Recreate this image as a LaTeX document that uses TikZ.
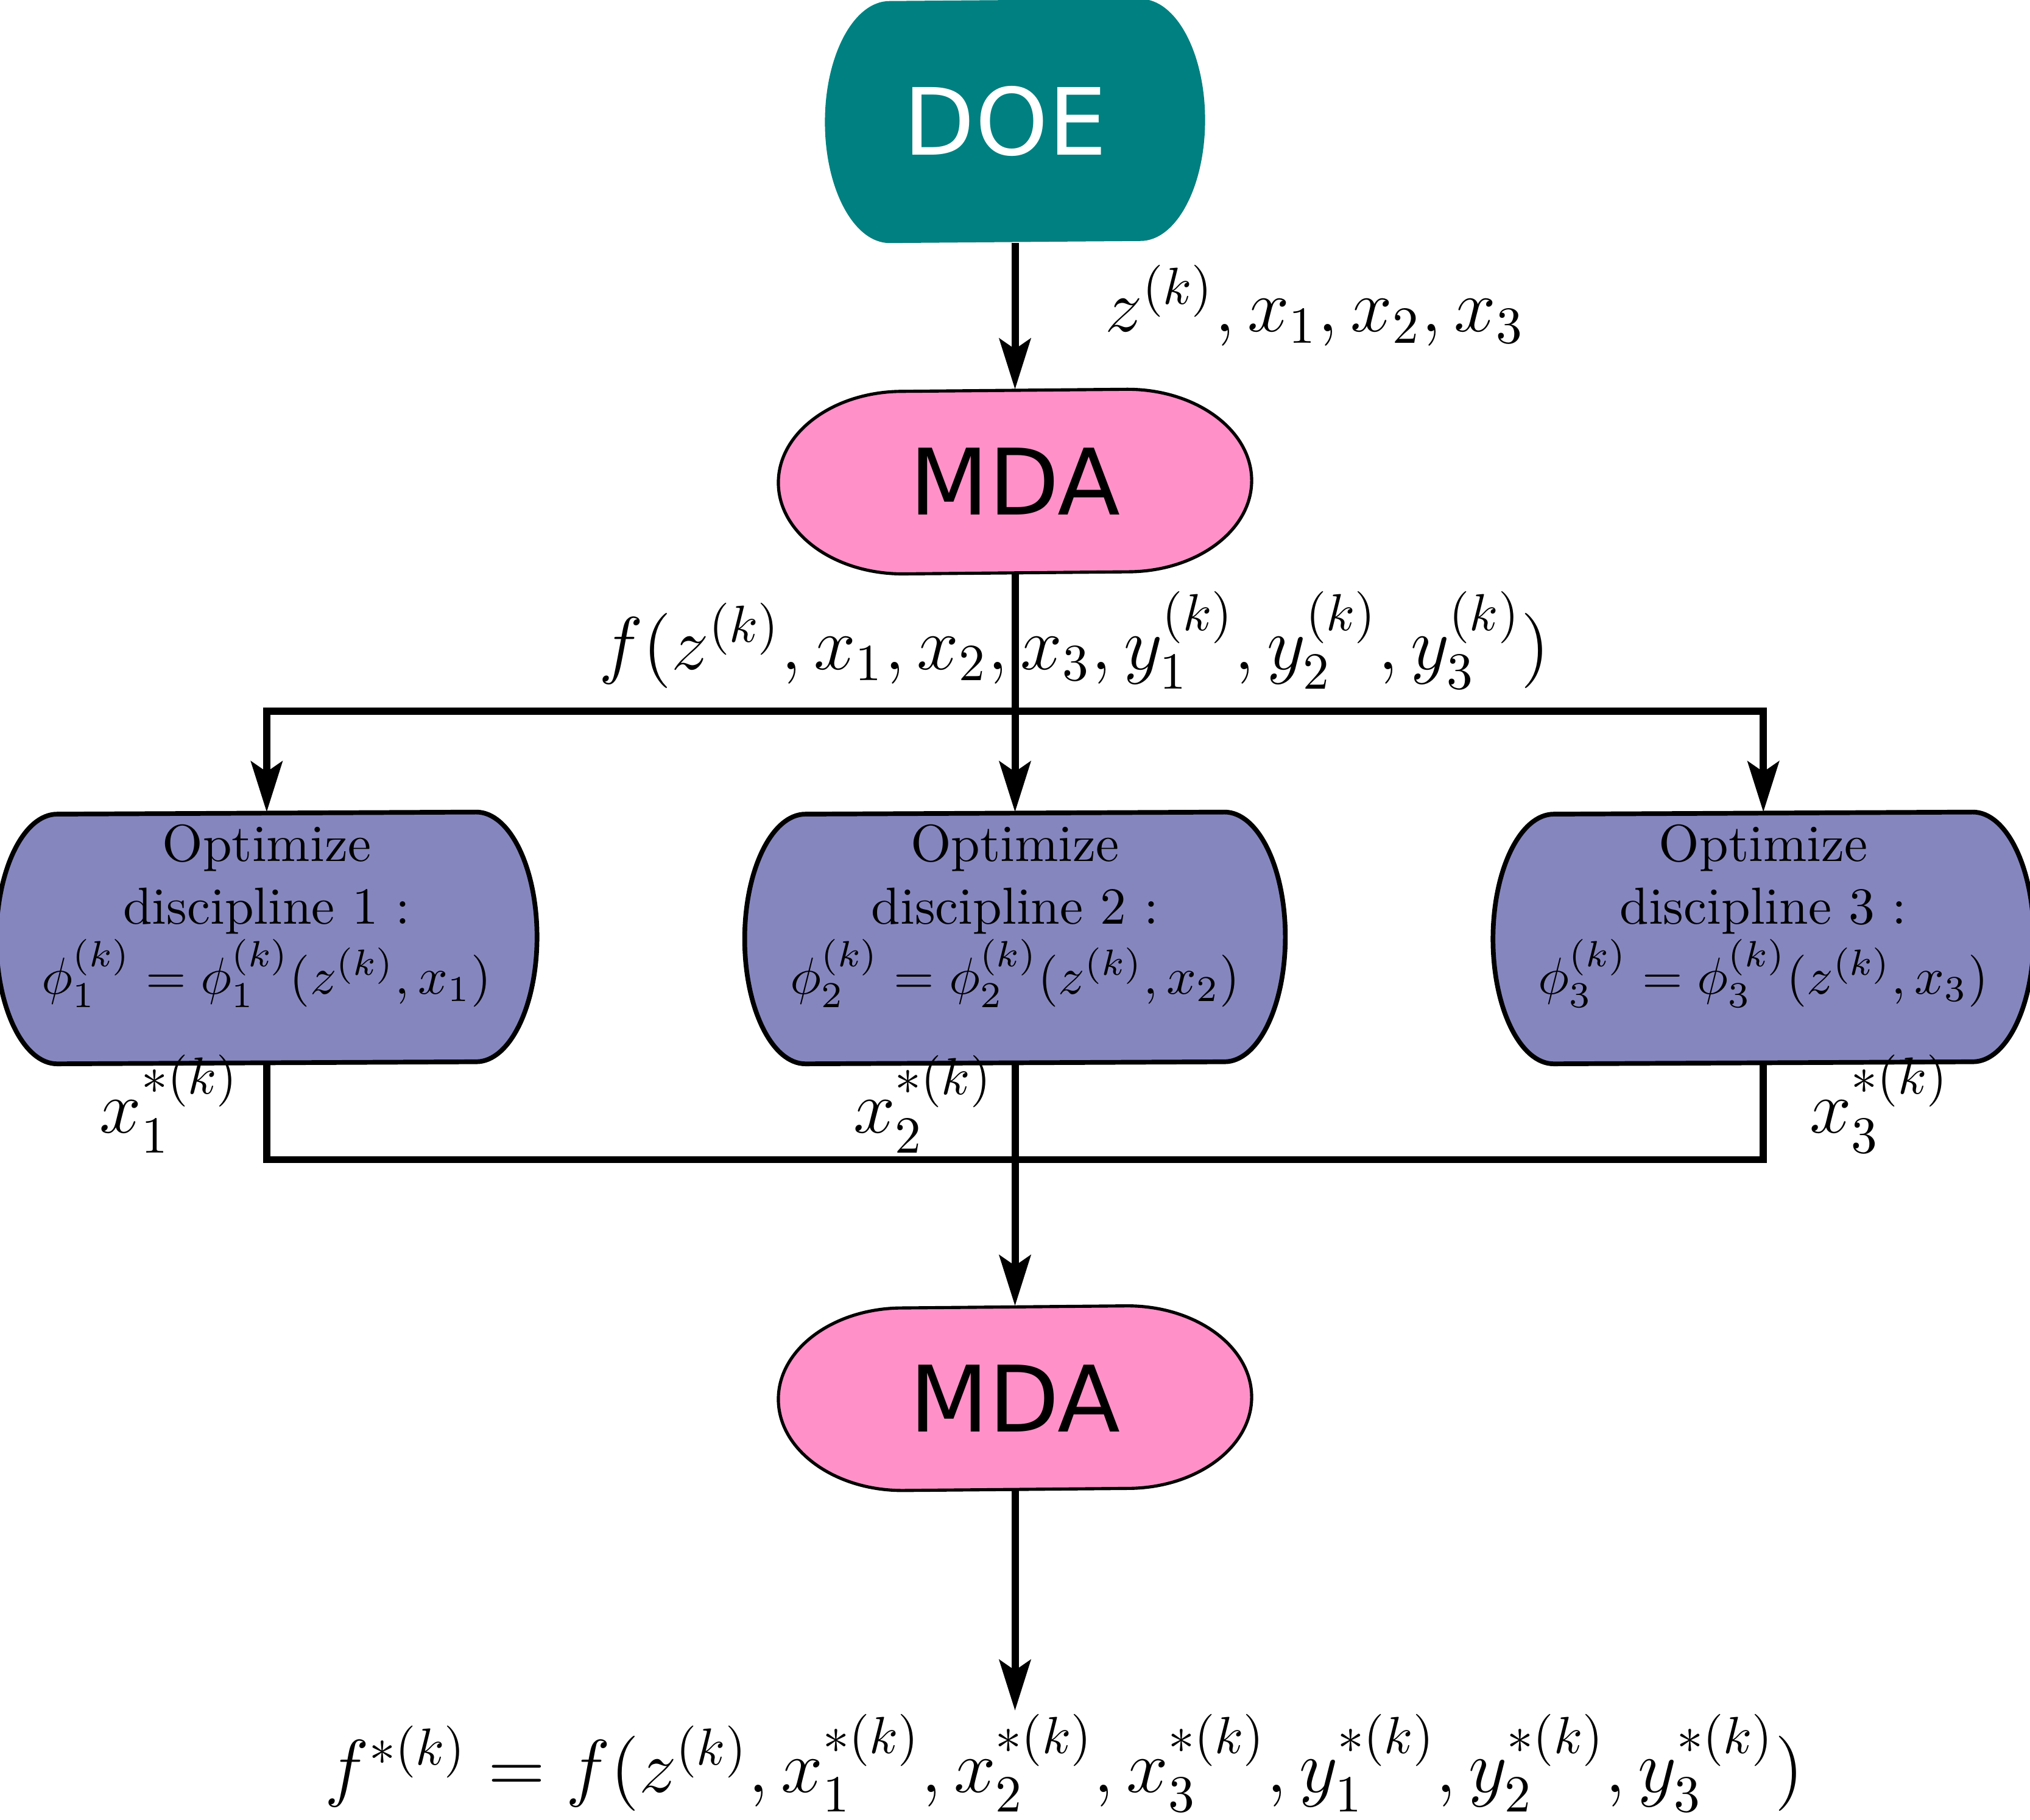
\documentclass[tikz,border=0pt]{standalone}
\usepackage{amsmath}
\usepackage{fontspec}
\newfontfamily\dejavu{DejaVu Sans}
\usepackage{tikz}
\usetikzlibrary{arrows.meta,calc,positioning,backgrounds}

\definecolor{doeteal}{RGB}{0,128,128}
\definecolor{mdapink}{RGB}{255,145,200}
\definecolor{optblue}{RGB}{134,134,191}

% flat top and bottom, half ellipses left and right
\newcommand{\capsule}[4]{%
  \path[#4] ([xshift=-#2]#1.north east)
    arc[start angle=90, end angle=-90, x radius=#2, y radius=#3]
    -- ([xshift=#2]#1.south west)
    arc[start angle=270, end angle=90, x radius=#2, y radius=#3] -- cycle;}

\begin{document}
\begin{tikzpicture}[auto, >={Stealth[length=9.7pt,width=6pt,inset=2pt]},
doe/.style={rectangle, minimum width=2.549cm, minimum height=1.632cm, inner sep=0pt, text=white, font=\dejavu\fontsize{17.8}{20}\selectfont},
mda/.style={rectangle, minimum width=3.177cm, minimum height=1.231cm, inner sep=0pt, font=\dejavu\fontsize{17.6}{20}\selectfont},
opt/.style={rectangle, minimum width=3.631cm, minimum height=1.684cm, inner sep=0pt, align=center, text depth=11pt},
lbl/.style={inner sep=2pt, font=\Large},
line/.style={draw, line width=1.4pt, ->},
conn/.style={draw, line width=1.4pt}]

\useasboundingbox (0,0) rectangle (13.686,-12.272);

% Nodes
\node[doe] (doe) at (6.843,-0.816) {DOE\kern3.7pt};
\node[mda, below=0.986cm of doe] (mda1) {MDA};
\node[opt, below=1.606cm of mda1] (opt2) {Optimize\\discipline 2 :\\$\phi_2^{(k)}=\phi_2^{(k)}(z^{(k)},x_2)$};
\node[opt, left=1.4cm of opt2] (opt1) {Optimize\\discipline 1 :\\$\phi_1^{(k)}=\phi_1^{(k)}(z^{(k)},x_1)$};
\node[opt, right=1.4cm of opt2] (opt3) {Optimize\\discipline 3 :\\$\phi_3^{(k)}=\phi_3^{(k)}(z^{(k)},x_3)$};
\node[mda, below=1.632cm of opt2] (mda2) {MDA};
\node[lbl, inner ysep=0.5pt, below=1.484cm of mda2, xshift=0.332cm] (fstar) {$f^{*(k)}=f(z^{(k)},x_1^{*(k)},x_2^{*(k)},x_3^{*(k)},y_1^{*(k)},y_2^{*(k)},y_3^{*(k)})$};

% Shapes
\begin{scope}[on background layer]
\capsule{doe}{0.436cm}{0.816cm}{fill=doeteal}
\capsule{mda1}{0.838cm}{0.6155cm}{draw, fill=mdapink, line width=0.6pt}
\capsule{mda2}{0.838cm}{0.6155cm}{draw, fill=mdapink, line width=0.6pt}
\foreach \n in {opt1,opt2,opt3}
  {\capsule{\n}{0.41cm}{0.842cm}{draw, fill=optblue, line width=0.9pt}}
\end{scope}

\coordinate[below=0.925cm of mda1] (split);
\coordinate[below=0.646cm of opt2] (merge);
\node[lbl, above=2pt of split, xshift=0.40cm] (flab) {$f(z^{(k)},x_1,x_2,x_3,y_1^{(k)},y_2^{(k)},y_3^{(k)})$};

% Paths
\path[line] (doe) -- node[lbl, right=14.6pt, yshift=2pt] (zlab) {$z^{(k)},x_1,x_2,x_3$} (mda1);
\path[line] (mda1) -- (opt2);
\path[line] (split) -| (opt1.north);
\path[line] (split) -| (opt3.north);
\path[conn] (opt1.south) |- node[lbl, pos=0.25, left=2.5pt, yshift=1.5pt] (x1lab) {$x_1^{*(k)}$} (merge)
  -| node[lbl, pos=0.75, right=6.2pt, yshift=1.5pt] (x3lab) {$x_3^{*(k)}$} (opt3.south);
\path[line] (opt2) -- node[lbl, pos=0.198, left=1.5pt, yshift=1.5pt] (x2lab) {$x_2^{*(k)}$} (mda2);
\path[line] (mda2) -- (mda2 |- fstar.north);
\end{tikzpicture}
\end{document}
